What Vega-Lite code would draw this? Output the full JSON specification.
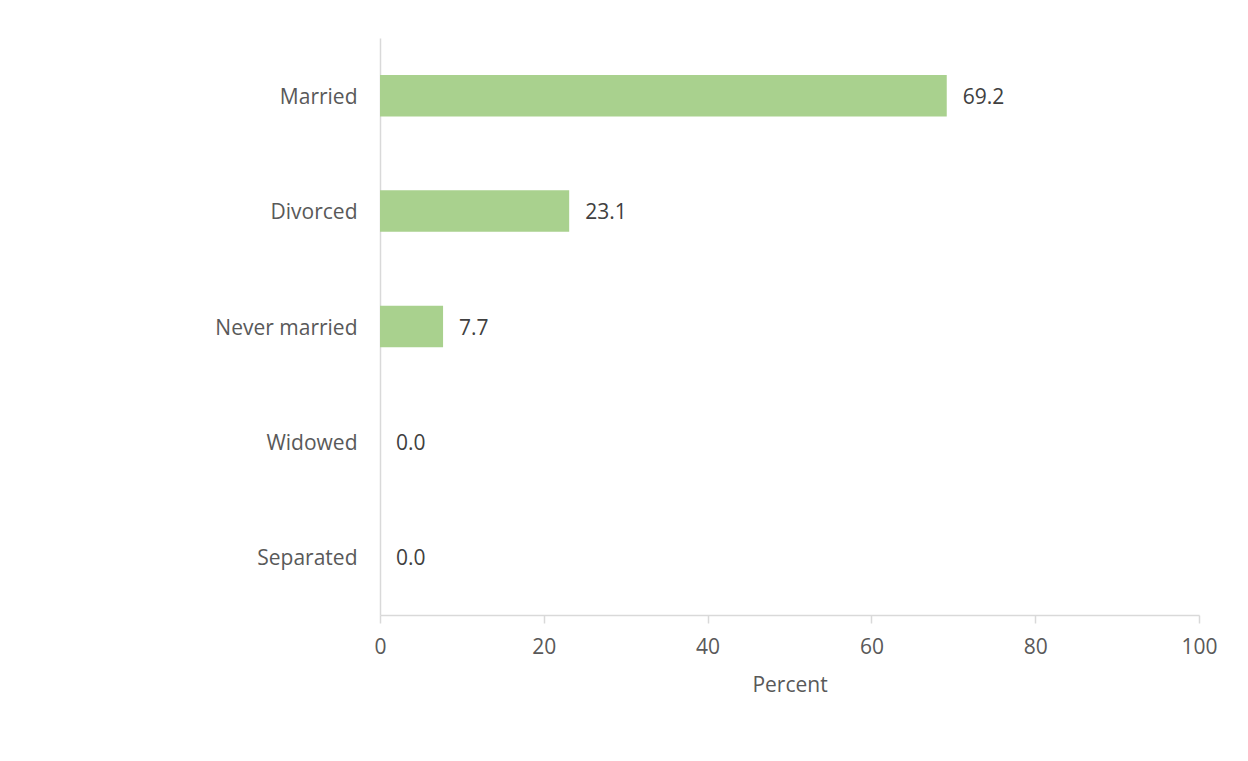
{
  "$schema": "https://vega.github.io/schema/vega-lite/v6.json",
  "width": 819,
  "height": 577,
  "autosize": {"type": "none"},
  "padding": {"left": 380, "top": 38, "right": 49, "bottom": 146},
  "background": "white",
  "config": {
    "view": {"stroke": null},
    "font": "Open Sans"
  },
  "data": {
    "values": [
      {"status": "Married", "percent": 69.2},
      {"status": "Divorced", "percent": 23.1},
      {"status": "Never married", "percent": 7.7},
      {"status": "Widowed", "percent": 0.0},
      {"status": "Separated", "percent": 0.0}
    ]
  },
  "encoding": {
    "y": {
      "field": "status",
      "type": "nominal",
      "sort": null,
      "scale": {"paddingInner": 0.64, "paddingOuter": 0.32},
      "axis": {
        "title": null,
        "ticks": false,
        "grid": false,
        "labelPadding": 23,
        "labelOffset": 2,
        "labelFontSize": 21,
        "labelColor": "#595959",
        "labelFont": "Open Sans",
        "domainColor": "#D9D9D9",
        "domainWidth": 1.5
      }
    },
    "x": {
      "field": "percent",
      "type": "quantitative",
      "scale": {"domain": [0, 100], "nice": false},
      "axis": {
        "values": [0, 20, 40, 60, 80, 100],
        "title": "Percent",
        "titleFontSize": 21,
        "titleFontWeight": "normal",
        "titleColor": "#595959",
        "titleFont": "Open Sans",
        "titlePadding": 17,
        "grid": false,
        "tickSize": 8,
        "tickColor": "#D9D9D9",
        "tickWidth": 1.5,
        "labelFlush": false,
        "labelPadding": 13,
        "labelFontSize": 21,
        "labelColor": "#595959",
        "labelFont": "Open Sans",
        "domainColor": "#D9D9D9",
        "domainWidth": 1.5
      }
    }
  },
  "layer": [
    {"mark": {"type": "bar", "color": "#A9D18E"}},
    {
      "mark": {"type": "text", "align": "left", "baseline": "middle", "dx": 16, "dy": 2, "fontSize": 21, "color": "#404040", "font": "Open Sans"},
      "encoding": {"text": {"field": "percent", "type": "quantitative", "format": ".1f"}}
    }
  ]
}
